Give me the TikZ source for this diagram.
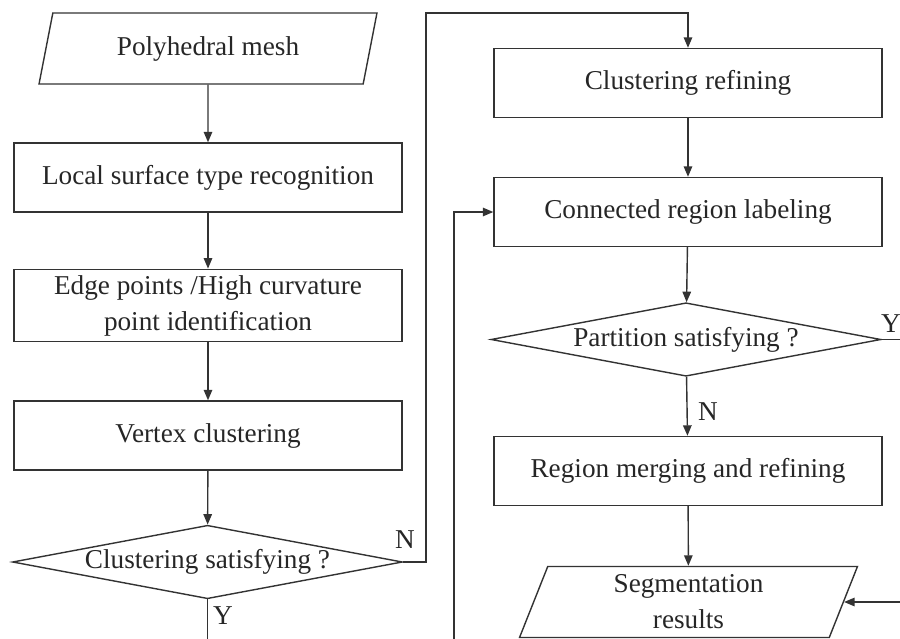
\documentclass[tikz,border=0pt]{standalone}
\usepackage{fontspec}
\setmainfont{Liberation Serif}
\usepackage{tikz}
\usetikzlibrary{positioning, arrows.meta, shapes.geometric, calc}

\begin{document}
\begin{tikzpicture}[x=0.02cm, y=-0.02cm, >={Triangle[length=2.1mm, width=1.7mm]},
    line width=0.8pt, draw=black!80, text=black!85,
    font=\fontsize{15.5}{20.5}\selectfont,
    box/.style={draw, rectangle, minimum width=7.76cm, minimum height=1.38cm, align=center},
    io/.style={draw, trapezium, trapezium left angle=64, trapezium right angle=116,
        trapezium stretches body, minimum width=6.76cm, minimum height=1.42cm, align=center, inner sep=1pt},
    test/.style={draw, diamond, inner sep=0pt, minimum width=7.8cm, minimum height=1.47cm, shape aspect=5.3},
    yn/.style={inner sep=0pt}]
    \useasboundingbox (0,0) rectangle (900,639);
    \clip (0,0) rectangle (900,639);

    % left column
    \node[io]  (pm)  at (208, 48.5)  {Polyhedral mesh};
    \node[box] (lst) at (208, 177.5) {Local surface type recognition};
    \node[box] (ep)  at (208, 305.5) {Edge points /High curvature\\point identification};
    \node[box] (vc)  at (208, 435.5) {Vertex clustering};
    \node[test] (cs) at (207.5, 562) {Clustering satisfying ?};

    % right column
    \node[box] (cr)  at (688, 83)    {Clustering refining};
    \node[box] (crl) at (688, 212)   {Connected region labeling};
    \node[test] (ps) at (686, 339.5) {Partition satisfying ?};
    \node[box] (rm)  at (688, 471)   {Region merging and refining};
    \node[io]  (sr)  at (688.5, 602) {Segmentation\\results};

    \coordinate (nup)  at (426, 13);
    \coordinate (ybot) at (454, 648);
    \coordinate (yout) at (912, 339.5);

    \draw[->] (pm)  -- (lst);
    \draw[->] (lst) -- (ep);
    \draw[->] (ep)  -- (vc);
    \draw[->] (vc)  -- (cs);
    \draw[->] (cr)  -- (crl);
    \draw[->] (crl) -- (ps);
    \draw[->] (ps)  -- (rm);
    \draw[->] (rm)  -- (sr);

    % N: back to refining
    \draw[->] (cs.east) -| (nup) -| (cr.north);
    \node[yn] (n1) at (405, 540) {N};
    % Y: on to labeling
    \draw[->] (cs.south) |- (ybot) |- (crl.west);
    \node[yn] (y1) at (223, 616) {Y};
    \node[yn] (n2) at (708, 412) {N};
    \draw[->] (ps.east) -- (yout) |- (sr.east);
    \node[yn] (y2) at (891, 324) {Y};
\end{tikzpicture}
\end{document}
